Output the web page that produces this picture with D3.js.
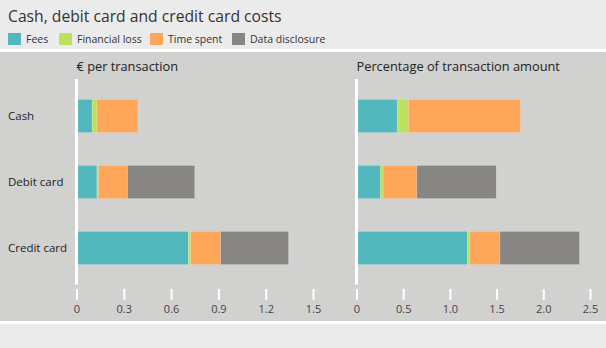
<!DOCTYPE html>
<html><head><meta charset="utf-8">
<script src="https://cdn.jsdelivr.net/npm/d3@7"></script>
<style>
html,body{margin:0;padding:0;background:#ebebeb;}
svg{display:block;font-family:"Open Sans","Noto Sans",sans-serif;}
</style></head>
<body>
<svg id="c" width="606" height="348"></svg>
<script>
const categories = ["Cash", "Debit card", "Credit card"];
const seriesNames = ["Fees", "Financial loss", "Time spent", "Data disclosure"];
const colors = ["#52b8bd", "#bde05f", "#fea65a", "#878683"];
// € per transaction
const eurFees = [0.09, 0.12, 0.70];
const eurLoss = [0.03, 0.01, 0.015];
const eurTime = [0.26, 0.185, 0.19];
const eurData = [0, 0.425, 0.43];
const eurTicks = [0, 0.3, 0.6, 0.9, 1.2, 1.5];
// Percentage of transaction amount
const pctFees = [0.42, 0.24, 1.17];
const pctLoss = [0.12, 0.03, 0.03];
const pctTime = [1.20, 0.36, 0.32];
const pctData = [0, 0.85, 0.85];
const pctTicks = [0, 0.5, 1.0, 1.5, 2.0, 2.5];

const svg = d3.select("#c");
// backgrounds
svg.append("rect").attr("x",0).attr("y",0).attr("width",606).attr("height",348).attr("fill","#ebebeb");
svg.append("rect").attr("x",0).attr("y",49).attr("width",606).attr("height",3).attr("fill","#ffffff");
svg.append("rect").attr("x",0).attr("y",52).attr("width",606).attr("height",269).attr("fill","#d1d1d0");
svg.append("rect").attr("x",0).attr("y",321).attr("width",606).attr("height",3).attr("fill","#ffffff");

svg.append("text").attr("x",8).attr("y",22).attr("font-size",15.7).attr("fill","#333")
  .text("Cash, debit card and credit card costs");

// legend
const legX = [8, 59, 150, 232];
const leg = svg.append("g");
seriesNames.forEach((n,i)=>{
  leg.append("rect").attr("x",legX[i]).attr("y",33).attr("width",13).attr("height",12).attr("fill",colors[i]);
  leg.append("text").attr("x",legX[i]+18).attr("y",43).attr("font-size",10.5).attr("fill","#333").text(n);
});

const y = d3.scaleBand().domain(categories).range([83, 281]).paddingInner(0.5).paddingOuter(0.25);

function panel(x0, width, maxV, ticks, fmt, title, arrs){
  const x = d3.scaleLinear().domain([0, maxV]).range([x0, x0+width]);
  const g = svg.append("g");
  g.append("text").attr("x",x0).attr("y",71).attr("font-size",12.8).attr("fill","#222").text(title);
  const stack = d3.stack().keys(seriesNames)(categories.map((c,i)=>{
    const o = {cat:c};
    seriesNames.forEach((s,k)=>o[s]=arrs[k][i]);
    return o;
  }));
  stack.forEach((layer,k)=>{
    g.selectAll(null).data(layer).enter().append("rect")
      .attr("x", d=>x(d[0])+1.5)
      .attr("width", d=>Math.max(0, x(d[1])-x(d[0])))
      .attr("y", d=>y(d.data.cat))
      .attr("height", y.bandwidth())
      .attr("fill", colors[k])
      .attr("stroke", d=> (d[1]-d[0])>0 ? "rgba(255,255,255,0.25)" : "none")
      .attr("stroke-width", 0.6);
  });
  g.append("line").attr("x1",x0).attr("x2",x0).attr("y1",79).attr("y2",284.5)
    .attr("stroke","#fff").attr("stroke-width",3);
  const ax = d3.axisBottom(x).tickValues(ticks).tickFormat(fmt).tickSize(11).tickPadding(5);
  const a = g.append("g").attr("transform","translate(0,289)").call(ax);
  a.select(".domain").remove();
  a.selectAll(".tick line").attr("stroke","#fff").attr("stroke-width",2);
  a.selectAll(".tick text").attr("fill","#444").attr("font-size",11).attr("font-family","'Open Sans','Noto Sans',sans-serif");
}

panel(76.5, 236.5, 1.5, eurTicks, d3.format(""), "€ per transaction", [eurFees, eurLoss, eurTime, eurData]);
panel(356.5, 233.5, 2.5, pctTicks, d3.format(".1f"), "Percentage of transaction amount", [pctFees, pctLoss, pctTime, pctData]);
// fix "0" label on right panel
svg.selectAll(".tick text").filter(function(){return this.textContent==="0.0";}).text("0");

// category labels
categories.forEach(c=>{
  svg.append("text").attr("x",8).attr("y",y(c)+y.bandwidth()/2).attr("dy","0.35em")
    .attr("font-size",11.5).attr("fill","#222").text(c);
});
</script>
</body></html>
